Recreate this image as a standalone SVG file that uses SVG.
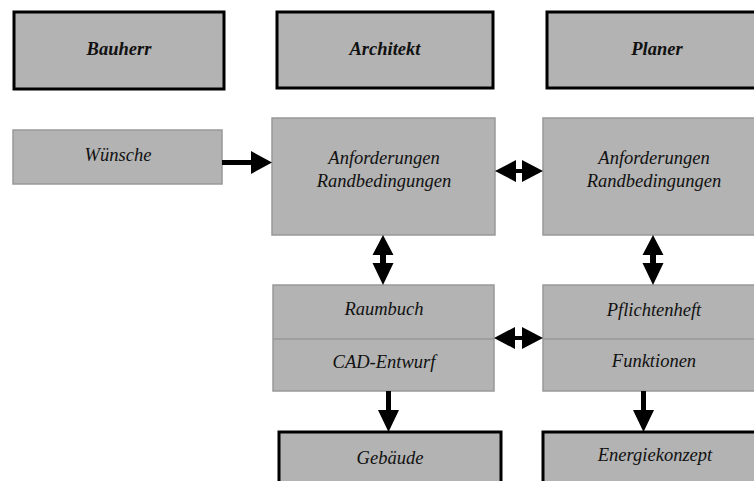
<svg xmlns="http://www.w3.org/2000/svg" width="754" height="481" viewBox="0 0 754 481">
<style>
.hd{fill:#b3b3b3;stroke:#000;stroke-width:3}
.bx{fill:#b3b3b3;stroke:#999;stroke-width:1.5}
.dv{stroke:#999;stroke-width:1.5}
text{font-family:"Liberation Serif","Times New Roman",serif;font-style:italic;font-size:18.5px;fill:#111;text-anchor:middle}
.b{font-weight:bold}
.ar{fill:#000}
</style>
<rect width="754" height="481" fill="#fff"/>
<g id="bauherr"><rect class="hd" x="14" y="12" width="210" height="77"/><text class="b" x="119" y="55">Bauherr</text></g>
<g id="architekt"><rect class="hd" x="277" y="12" width="216" height="76"/><text class="b" x="385" y="55">Architekt</text></g>
<g id="planer"><rect class="hd" x="547" y="12" width="220" height="76"/><text class="b" x="657" y="55">Planer</text></g>
<g id="wuensche"><rect class="bx" x="13" y="130" width="209" height="54"/><text x="118" y="161">Wünsche</text></g>
<g id="anf1"><rect class="bx" x="272" y="118" width="223" height="117"/><text x="384" y="164">Anforderungen</text><text x="384" y="187">Randbedingungen</text></g>
<g id="anf2"><rect class="bx" x="543" y="118" width="222" height="117"/><text x="654" y="164">Anforderungen</text><text x="654" y="187">Randbedingungen</text></g>
<g id="raumbuch"><rect class="bx" x="273" y="285" width="221" height="106"/><line class="dv" x1="273" y1="339" x2="494" y2="339"/><text x="384" y="315">Raumbuch</text><text x="384" y="368">CAD-Entwurf</text></g>
<g id="pflichtenheft"><rect class="bx" x="543" y="285" width="222" height="106"/><line class="dv" x1="543" y1="339" x2="765" y2="339"/><text x="654" y="316">Pflichtenheft</text><text x="654" y="367">Funktionen</text></g>
<g id="gebaeude"><rect class="hd" x="279" y="432" width="222" height="60"/><text x="390" y="464">Gebäude</text></g>
<g id="energiekonzept"><rect class="hd" x="543" y="432" width="222" height="60"/><text x="655" y="461">Energiekonzept</text></g>
<g id="connectors">
<path class="ar" d="M222 160 H251 V151 L272 162.5 L251 174 V165 H222 Z"/>
<path class="ar" d="M495 171 L516 160 V169 H522 V160 L543 171 L522 182 V173 H516 V182 Z"/>
<path class="ar" d="M494 338 L515 327 V336 H522 V327 L543 338 L522 349 V340 H515 V349 Z"/>
<path class="ar" d="M383 235 L393.5 255 H386 V263 H393.5 L383 285 L372.5 263 H380 V255 H372.5 Z"/>
<path class="ar" d="M653 235 L663.5 255 H656 V263 H663.5 L653 285 L642.5 263 H650 V255 H642.5 Z"/>
<path class="ar" d="M386 391 H391 V410 H399 L388.5 432 L378 410 H386 Z"/>
<path class="ar" d="M641 391 H646 V410 H654 L643.5 432 L633 410 H641 Z"/>
</g>
</svg>
